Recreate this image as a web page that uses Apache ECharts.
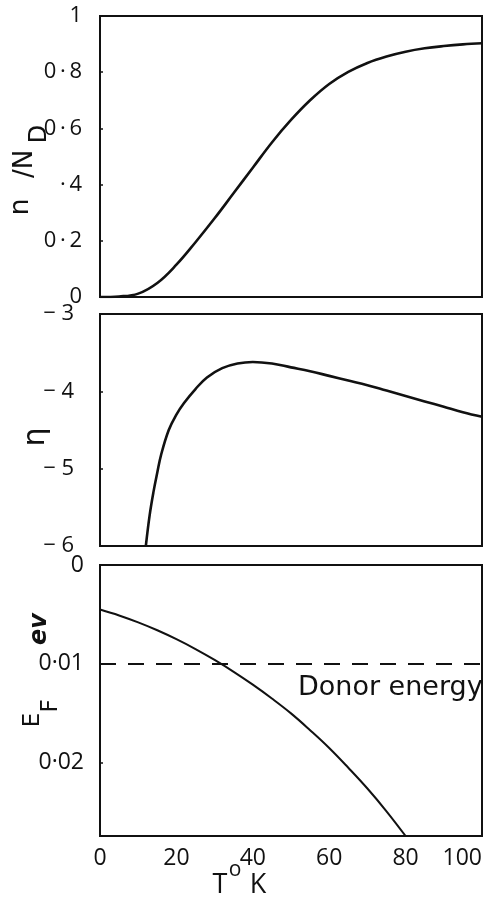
<!DOCTYPE html>
<html>
<head>
<meta charset="utf-8">
<script src="https://cdn.jsdelivr.net/npm/echarts@6/dist/echarts.min.js"></script>
<style>
html,body{margin:0;padding:0;background:#fff;}
#chart{width:488px;height:900px;}
</style>
</head>
<body>
<div id="chart"></div>
<script>
// ---- data ----
var tempN = [0, 5, 10, 15, 20, 25, 30, 35, 40, 45, 50, 55, 60, 65, 70, 75, 80, 85, 90, 95, 100];
var nOverND = [0, 0.002, 0.012, 0.05, 0.115, 0.195, 0.28, 0.37, 0.46, 0.55, 0.63, 0.70, 0.758, 0.801, 0.833, 0.856, 0.873, 0.885, 0.893, 0.899, 0.903];

var tempEta = [12, 13, 14, 15, 16, 18, 20, 22, 25, 28, 32, 36, 40, 45, 50, 55, 60, 65, 70, 75, 80, 85, 90, 95, 100];
var eta = [-6.0, -5.6, -5.3, -5.05, -4.82, -4.5, -4.3, -4.15, -3.97, -3.82, -3.7, -3.64, -3.62, -3.64, -3.69, -3.74, -3.8, -3.86, -3.92, -3.99, -4.06, -4.13, -4.2, -4.27, -4.33];

var tempEF = [0, 5, 10, 15, 20, 25, 30, 35, 40, 45, 50, 55, 60, 65, 70, 75, 80];
var fermiEnergy = [0.0045, 0.0051, 0.0058, 0.0066, 0.0075, 0.0085, 0.0096, 0.0108, 0.0121, 0.0135, 0.0150, 0.0167, 0.0185, 0.0205, 0.0226, 0.0249, 0.0274];
var donorEnergy = 0.01;

var xTickLabels = ['0', '20', '40', '60', '80', '100'];
var yLabels1 = ['0', '0\u2009·\u20092', '·\u20094', '0\u2009·\u20096', '0\u2009·\u20098', '1'];
var yLabels2 = ['− 6', '− 5', '− 4', '− 3'];
var yLabels3 = ['0', '0·01', '0·02'];

function pairs(xs, ys) { return xs.map(function (x, i) { return [x, ys[i]]; }); }

var FONT = '"Open Sans"';
var INK = '#111';

var chart = echarts.init(document.getElementById('chart'));
var gridCommon = { left: 100, width: 382, show: true, borderColor: INK, borderWidth: 2, containLabel: false, outerBoundsMode: 'none' };

function xAxisFor(idx, showLabels) {
  return {
    type: 'value', gridIndex: idx, min: 0, max: 100, interval: 20,
    axisLine: { show: false }, splitLine: { show: false },
    axisTick: { show: false },
    axisLabel: {
      show: showLabels, margin: 11, color: INK, fontFamily: FONT, fontSize: 23,
      alignMaxLabel: 'right',
      formatter: function (v) { return xTickLabels[Math.round(v / 20)]; }
    }
  };
}
var yTick = { show: true, inside: true, length: 3, lineStyle: { color: INK, width: 1.5 } };

var option = {
  animation: false,
  backgroundColor: '#fff',
  grid: [
    Object.assign({ top: 16, height: 281 }, gridCommon),
    Object.assign({ top: 314, height: 232 }, gridCommon),
    Object.assign({ top: 565, height: 271 }, gridCommon)
  ],
  xAxis: [xAxisFor(0, false), xAxisFor(1, false), xAxisFor(2, true)],
  yAxis: [
    {
      type: 'value', gridIndex: 0, min: 0, max: 1, interval: 0.2,
      axisLine: { show: false }, splitLine: { show: false }, axisTick: yTick,
      axisLabel: { margin: 18, color: INK, fontFamily: FONT, fontSize: 22,
        formatter: function (v) { return yLabels1[Math.round(v / 0.2)]; } }
    },
    {
      type: 'value', gridIndex: 1, min: -6, max: -3, interval: 1,
      axisLine: { show: false }, splitLine: { show: false }, axisTick: yTick,
      axisLabel: { margin: 26, color: INK, fontFamily: FONT, fontSize: 22,
        formatter: function (v) { return yLabels2[Math.round(v + 6)]; } }
    },
    {
      type: 'value', gridIndex: 2, min: 0, max: 0.0274, interval: 0.01, inverse: true,
      axisLine: { show: false }, splitLine: { show: false }, axisTick: yTick,
      axisLabel: { margin: 16, color: INK, fontFamily: FONT, fontSize: 23,
        formatter: function (v) {
          var k = Math.round(v / 0.01);
          return Math.abs(v - k * 0.01) < 1e-6 ? (yLabels3[k] || '') : '';
        } }
    }
  ],
  series: [
    {
      type: 'line', xAxisIndex: 0, yAxisIndex: 0, data: pairs(tempN, nOverND),
      smooth: 0.4, showSymbol: false, lineStyle: { color: INK, width: 2.6 }
    },
    {
      type: 'line', xAxisIndex: 1, yAxisIndex: 1, data: pairs(tempEta, eta),
      smooth: 0.4, showSymbol: false, lineStyle: { color: INK, width: 2.6 }
    },
    {
      type: 'line', xAxisIndex: 2, yAxisIndex: 2, data: pairs(tempEF, fermiEnergy),
      smooth: 0.4, showSymbol: false, lineStyle: { color: INK, width: 2 },
      markLine: {
        silent: true, symbol: 'none', animation: false,
        label: { show: false },
        lineStyle: { color: INK, width: 2, type: [16, 12] },
        data: [{ yAxis: donorEnergy }]
      }
    }
  ],
  graphic: [
    { type: 'text', x: 298, y: 688, style: { text: 'Donor energy', fill: INK, font: '27px "DejaVu Sans"', align: 'left', verticalAlign: 'middle' } },
    { type: 'text', x: 21, y: 207, rotation: Math.PI / 2, style: { text: 'n', fill: INK, font: '27px "DejaVu Sans"', align: 'center', verticalAlign: 'middle' } },
    { type: 'text', x: 25, y: 164, rotation: Math.PI / 2, style: { text: '/N', fill: INK, font: '26px "DejaVu Sans"', align: 'center', verticalAlign: 'middle' } },
    { type: 'text', x: 40, y: 134, rotation: Math.PI / 2, style: { text: 'D', fill: INK, font: '24px "DejaVu Sans"', align: 'center', verticalAlign: 'middle' } },
    { type: 'text', x: 36, y: 437, rotation: Math.PI / 2, style: { text: 'η', fill: INK, font: '30px "DejaVu Sans"', align: 'center', verticalAlign: 'middle' } },
    { type: 'text', x: 33, y: 720, rotation: Math.PI / 2, style: { text: 'E', fill: INK, font: '23px "DejaVu Sans"', align: 'center', verticalAlign: 'middle' } },
    { type: 'text', x: 51, y: 706, rotation: Math.PI / 2, style: { text: 'F', fill: INK, font: '23px "DejaVu Sans"', align: 'center', verticalAlign: 'middle' } },
    { type: 'text', x: 40, y: 629, rotation: Math.PI / 2, style: { text: 'ev', fill: INK, font: 'italic bold 24px "DejaVu Sans"', align: 'center', verticalAlign: 'middle' } },
    { type: 'text', x: 220, y: 885, style: { text: 'T', fill: INK, font: '27px "Open Sans"', align: 'center', verticalAlign: 'middle' } },
    { type: 'text', x: 235, y: 870, style: { text: 'o', fill: INK, font: '21px "Open Sans"', align: 'center', verticalAlign: 'middle' } },
    { type: 'text', x: 258, y: 885, style: { text: 'K', fill: INK, font: '27px "Open Sans"', align: 'center', verticalAlign: 'middle' } }
  ]
};
chart.setOption(option);
</script>
</body>
</html>
